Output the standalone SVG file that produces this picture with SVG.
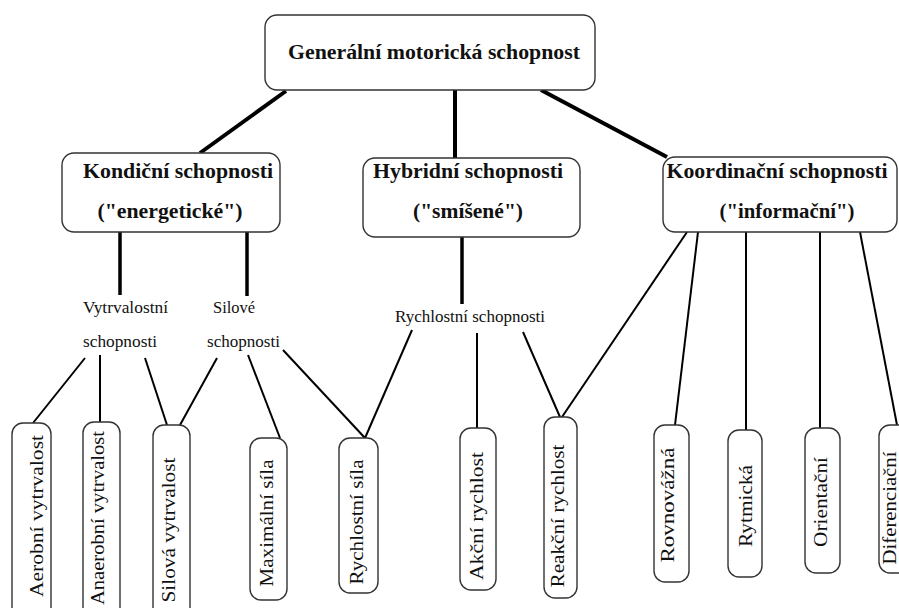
<svg xmlns="http://www.w3.org/2000/svg" width="899" height="608" viewBox="0 0 899 608">
<style>
.box{fill:#fff;stroke:#333;stroke-width:1.4}
.t{font-family:"Liberation Serif","DejaVu Serif",serif;fill:#111}
.b{font-weight:bold;font-size:20px}
.m{font-size:17px}
.v{font-size:19px}
.thick{stroke:#000;stroke-width:4;fill:none}
.mid{stroke:#000;stroke-width:3.5;fill:none}
.thin{stroke:#000;stroke-width:2;fill:none}
</style>
<rect width="899" height="608" fill="#fff"/>
<g id="connectors">
<line class="thick" x1="286" y1="91" x2="200" y2="153"/>
<line class="thick" x1="455" y1="90" x2="455" y2="158"/>
<line class="thick" x1="541" y1="90" x2="667" y2="157"/>
<line class="mid" x1="120" y1="232" x2="120" y2="295"/>
<line class="mid" x1="247" y1="232" x2="247" y2="296"/>
<line class="mid" x1="462" y1="237" x2="462" y2="304"/>
<line class="thin" x1="85" y1="358" x2="33" y2="423"/>
<line class="thin" x1="100" y1="355" x2="100" y2="422"/>
<line class="thin" x1="145" y1="358" x2="167" y2="425"/>
<line class="thin" x1="217" y1="358" x2="180" y2="425"/>
<line class="thin" x1="248" y1="355" x2="280" y2="438"/>
<line class="thin" x1="283" y1="350" x2="365" y2="438"/>
<line class="thin" x1="412" y1="330" x2="365" y2="438"/>
<line class="thin" x1="477" y1="333" x2="477" y2="428"/>
<line class="thin" x1="523" y1="332" x2="560" y2="417"/>
<line class="thin" x1="687" y1="232" x2="562" y2="417"/>
<line class="thin" x1="698" y1="232" x2="675" y2="425"/>
<line class="thin" x1="746" y1="232" x2="746" y2="430"/>
<line class="thin" x1="820" y1="232" x2="820" y2="428"/>
<line class="thin" x1="860" y1="232" x2="897" y2="425"/>
</g>
<g id="general">
<rect class="box" x="265" y="15" width="330" height="75" rx="12"/>
<text class="t b" x="434" y="59" text-anchor="middle" textLength="292" lengthAdjust="spacingAndGlyphs">Generální motorická schopnost</text>
</g>
<g id="kondicni">
<rect class="box" x="62" y="153" width="218" height="79" rx="12"/>
<text class="t b" x="178" y="178" text-anchor="middle" textLength="190" lengthAdjust="spacingAndGlyphs">Kondiční schopnosti</text>
<text class="t b" x="170" y="218" text-anchor="middle" textLength="145" lengthAdjust="spacingAndGlyphs">("energetické")</text>
</g>
<g id="hybridni">
<rect class="box" x="363" y="158" width="217" height="79" rx="12"/>
<text class="t b" x="468" y="178" text-anchor="middle" textLength="190" lengthAdjust="spacingAndGlyphs">Hybridní schopnosti</text>
<text class="t b" x="468" y="218" text-anchor="middle" textLength="110" lengthAdjust="spacingAndGlyphs">("smíšené")</text>
</g>
<g id="koordinacni">
<rect class="box" x="663" y="157" width="234" height="75" rx="12"/>
<text class="t b" x="777" y="178" text-anchor="middle" textLength="221" lengthAdjust="spacingAndGlyphs">Koordinační schopnosti</text>
<text class="t b" x="787" y="218" text-anchor="middle" textLength="135" lengthAdjust="spacingAndGlyphs">("informační")</text>
</g>
<g id="vytrvalostni">
<text class="t m" x="83" y="313" textLength="85" lengthAdjust="spacingAndGlyphs">Vytrvalostní</text>
<text class="t m" x="83" y="347" textLength="74" lengthAdjust="spacingAndGlyphs">schopnosti</text>
</g>
<g id="silove">
<text class="t m" x="213" y="313" textLength="42" lengthAdjust="spacingAndGlyphs">Silové</text>
<text class="t m" x="207" y="347" textLength="73" lengthAdjust="spacingAndGlyphs">schopnosti</text>
</g>
<g id="rychlostni">
<text class="t m" x="395" y="322" textLength="150" lengthAdjust="spacingAndGlyphs">Rychlostní schopnosti</text>
</g>
<g id="aerobni">
<rect class="box" x="12" y="423" width="39" height="200" rx="11"/>
<text class="t v" transform="translate(43,516) rotate(-90)" text-anchor="middle" textLength="162" lengthAdjust="spacingAndGlyphs">Aerobní vytrvalost</text>
</g>
<g id="anaerobni">
<rect class="box" x="83" y="422" width="37" height="200" rx="11"/>
<text class="t v" transform="translate(104,518) rotate(-90)" text-anchor="middle" textLength="174" lengthAdjust="spacingAndGlyphs">Anaerobní vytrvalost</text>
</g>
<g id="silova">
<rect class="box" x="153" y="425" width="37" height="200" rx="11"/>
<text class="t v" transform="translate(175,530) rotate(-90)" text-anchor="middle" textLength="145" lengthAdjust="spacingAndGlyphs">Silová vytrvalost</text>
</g>
<g id="maximalni">
<rect class="box" x="250" y="438" width="37" height="162" rx="11"/>
<text class="t v" transform="translate(273,523) rotate(-90)" text-anchor="middle" textLength="127" lengthAdjust="spacingAndGlyphs">Maximální síla</text>
</g>
<g id="rychlostni-sila">
<rect class="box" x="339" y="438" width="39" height="155" rx="11"/>
<text class="t v" transform="translate(363,522) rotate(-90)" text-anchor="middle" textLength="125" lengthAdjust="spacingAndGlyphs">Rychlostní síla</text>
</g>
<g id="akcni">
<rect class="box" x="460" y="428" width="36" height="162" rx="11"/>
<text class="t v" transform="translate(483,516) rotate(-90)" text-anchor="middle" textLength="128" lengthAdjust="spacingAndGlyphs">Akční rychlost</text>
</g>
<g id="reakcni">
<rect class="box" x="544" y="417" width="33" height="181" rx="11"/>
<text class="t v" transform="translate(564,516) rotate(-90)" text-anchor="middle" textLength="143" lengthAdjust="spacingAndGlyphs">Reakční rychlost</text>
</g>
<g id="rovnovazna">
<rect class="box" x="654" y="425" width="35" height="157" rx="11"/>
<text class="t v" transform="translate(674,505) rotate(-90)" text-anchor="middle" textLength="115" lengthAdjust="spacingAndGlyphs">Rovnovážná</text>
</g>
<g id="rytmicka">
<rect class="box" x="728" y="430" width="34" height="147" rx="11"/>
<text class="t v" transform="translate(752,506) rotate(-90)" text-anchor="middle" textLength="82" lengthAdjust="spacingAndGlyphs">Rytmická</text>
</g>
<g id="orientacni">
<rect class="box" x="805" y="428" width="35" height="145" rx="11"/>
<text class="t v" transform="translate(827,502) rotate(-90)" text-anchor="middle" textLength="90" lengthAdjust="spacingAndGlyphs">Orientační</text>
</g>
<g id="diferenciacni">
<rect class="box" x="879" y="425" width="40" height="148" rx="11"/>
<text class="t v" transform="translate(896,508) rotate(-90)" text-anchor="middle" textLength="113" lengthAdjust="spacingAndGlyphs">Diferenciační</text>
</g>
</svg>
